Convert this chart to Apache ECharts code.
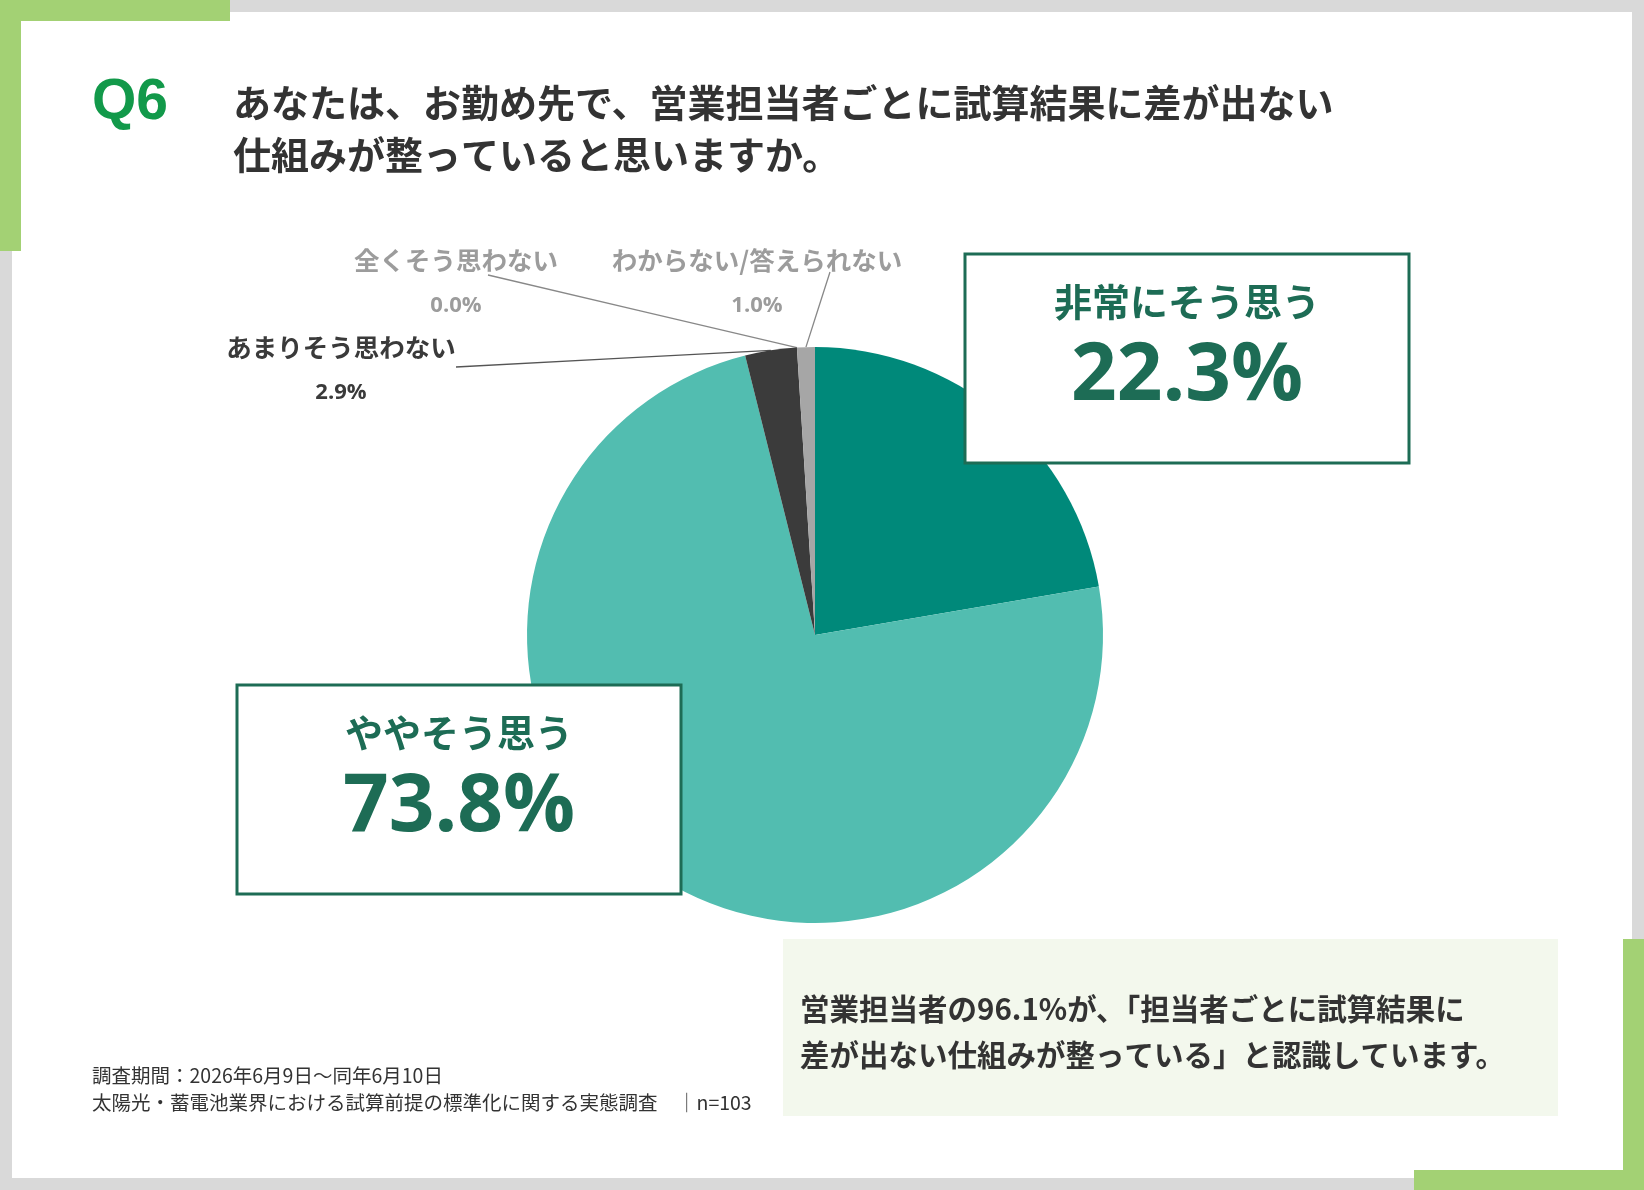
<!DOCTYPE html>
<html><head><meta charset="utf-8">
<script src="https://cdn.jsdelivr.net/npm/echarts@6/dist/echarts.min.js"></script>
<style>html,body{margin:0;padding:0;background:#fff}#c{width:1644px;height:1190px}</style>
</head><body><div id="c"></div>
<script>
// ---- data ----
const categories = ['非常にそう思う', 'ややそう思う', 'あまりそう思わない', '全くそう思わない', 'わからない/答えられない'];
const percentages = [22.3, 73.8, 2.9, 0.0, 1.0];
const titleLines = ['あなたは、お勤め先で、営業担当者ごとに試算結果に差が出ない', '仕組みが整っていると思いますか。'];
const summaryLines = ['営業担当者の96.1%が、「担当者ごとに試算結果に', '差が出ない仕組みが整っている」と認識しています。'];
const noteLines = ['調査期間：2026年6月9日〜同年6月10日', '太陽光・蓄電池業界における試算前提の標準化に関する実態調査　│n=103'];

// ---- styling / layout ----
const sliceColors = ['#00897a', '#52bdb0', '#3b3b3b', '#bfbfbf', '#a6a6a6'];
const anchors = [
  { x: 1187, y: 358.5 },
  { x: 459, y: 789.5 },
  { x: 341, y: 370, line: [456, 367] },
  { x: 456, y: 283, line: [488, 275] },
  { x: 757, y: 283, line: [830, 272] }
];
const JP = "'Noto Sans CJK JP', 'Noto Sans', sans-serif";
const boxGreen = '#1d6c55';

function bigLabel() {
  return {
    show: true,
    formatter: p => '{n|' + p.name + '}\n{v|' + p.value.toFixed(1) + '%}',
    backgroundColor: '#fff',
    borderColor: boxGreen,
    borderWidth: 3,
    width: 441,
    align: 'center',
    padding: [11, 0, 43, 0],
    rich: {
      n: { fontFamily: JP, fontSize: 38, fontWeight: 'bold', color: boxGreen, lineHeight: 70, align: 'center', width: 441 },
      v: { fontFamily: "'Open Sans', 'Noto Sans', sans-serif", fontSize: 80, fontWeight: 'bold', color: boxGreen, lineHeight: 82, align: 'center', width: 441 }
    }
  };
}
function smallLabel(nameColor, valColor) {
  return {
    show: true,
    formatter: p => '{n|' + p.name + '}\n{v|' + p.value.toFixed(1) + '%}',
    align: 'center',
    rich: {
      n: { fontFamily: JP, fontSize: 25.5, fontWeight: 'bold', color: nameColor, lineHeight: 45, align: 'center' },
      v: { fontFamily: "'Open Sans', 'Noto Sans', sans-serif", fontSize: 22, fontWeight: 'bold', color: valColor, lineHeight: 45, align: 'center' }
    }
  };
}
const labelStyles = [
  bigLabel(), bigLabel(),
  smallLabel('#3a3a3a', '#3a3a3a'),
  smallLabel('#9c9c9c', '#9c9c9c'),
  smallLabel('#9c9c9c', '#9c9c9c')
];
const lineColors = [null, null, '#555', '#888', '#888'];

const pieData = categories.map((name, i) => ({
  name: name,
  value: percentages[i],
  itemStyle: { color: sliceColors[i] },
  label: labelStyles[i],
  labelLine: lineColors[i] ? { show: true, lineStyle: { color: lineColors[i], width: 1.3 } } : { show: false }
}));

const graphics = [
  // light gray frame
  { type: 'rect', shape: { x: 0, y: 0, width: 1644, height: 12 }, style: { fill: '#d9d9d9' } },
  { type: 'rect', shape: { x: 0, y: 1178, width: 1644, height: 12 }, style: { fill: '#d9d9d9' } },
  { type: 'rect', shape: { x: 0, y: 0, width: 12, height: 1190 }, style: { fill: '#d9d9d9' } },
  { type: 'rect', shape: { x: 1632, y: 0, width: 12, height: 1190 }, style: { fill: '#d9d9d9' } },
  // green accents
  { type: 'rect', shape: { x: 0, y: 0, width: 230, height: 21 }, style: { fill: '#a3d174' } },
  { type: 'rect', shape: { x: 0, y: 0, width: 21, height: 251 }, style: { fill: '#a3d174' } },
  { type: 'rect', shape: { x: 1623, y: 939, width: 21, height: 251 }, style: { fill: '#a3d174' } },
  { type: 'rect', shape: { x: 1414, y: 1170, width: 230, height: 20 }, style: { fill: '#a3d174' } },
  // title
  { type: 'text', x: 92, y: 103, style: { text: 'Q6', fill: '#12994a', font: "bold 57px 'Liberation Sans', Arial, sans-serif", textVerticalAlign: 'middle' } },
  { type: 'text', x: 233, y: 103, style: { text: titleLines[0], fill: '#333', font: 'bold 38px ' + JP, textVerticalAlign: 'middle' } },
  { type: 'text', x: 233, y: 155, style: { text: titleLines[1], fill: '#333', font: 'bold 38px ' + JP, textVerticalAlign: 'middle' } },
  // summary box
  { type: 'rect', shape: { x: 783, y: 939, width: 775, height: 177 }, style: { fill: '#f3f8ed' } },
  { type: 'text', x: 800, y: 1009, style: { text: summaryLines[0], fill: '#333', font: 'bold 29.5px ' + JP, textVerticalAlign: 'middle' } },
  { type: 'text', x: 800, y: 1055, style: { text: summaryLines[1], fill: '#333', font: 'bold 29.5px ' + JP, textVerticalAlign: 'middle' } },
  // notes
  { type: 'text', x: 92, y: 1076, style: { text: noteLines[0], fill: '#333', font: '19.5px ' + JP, textVerticalAlign: 'middle' } },
  { type: 'text', x: 92, y: 1103, style: { text: noteLines[1], fill: '#333', font: '19.5px ' + JP, textVerticalAlign: 'middle' } }
];

const chart = echarts.init(document.getElementById('c'), null, { renderer: 'canvas' });
chart.setOption({
  backgroundColor: '#ffffff',
  animation: false,
  graphic: graphics,
  series: [{
    type: 'pie',
    center: [815, 635],
    radius: 288,
    startAngle: 90,
    clockwise: true,
    avoidLabelOverlap: false,
    itemStyle: { borderWidth: 0 },
    emphasis: { disabled: true },
    data: pieData,
    labelLayout: function (params) {
      const a = anchors[params.dataIndex];
      const res = { x: a.x, y: a.y, align: 'center', verticalAlign: 'middle' };
      if (a.line && params.labelLinePoints) {
        const p0 = params.labelLinePoints[0];
        res.labelLinePoints = [p0, [(p0[0] + a.line[0]) / 2, (p0[1] + a.line[1]) / 2], a.line];
      }
      return res;
    }
  }]
});
</script>
</body></html>
